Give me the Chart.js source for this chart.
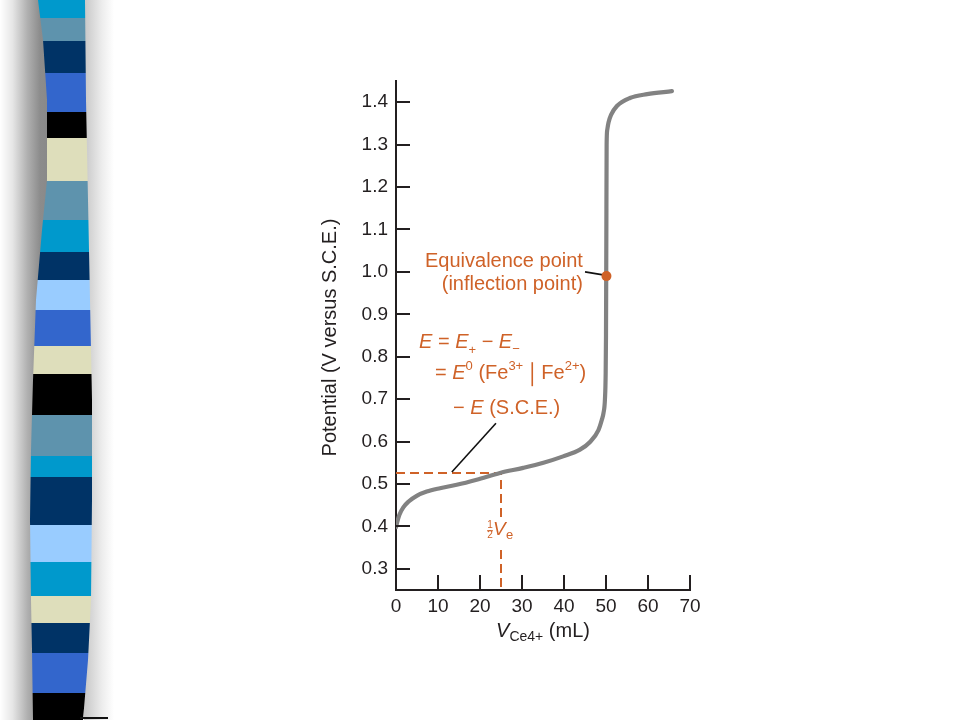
<!DOCTYPE html>
<html>
<head>
<meta charset="utf-8">
<script src="https://cdn.jsdelivr.net/npm/chart.js@4.4.1/dist/chart.umd.min.js"></script>
<style>
  html, body { margin: 0; padding: 0; background: #ffffff; }
  #wrap { position: relative; width: 960px; height: 720px; overflow: hidden; background: #fff; }
  #shadowL { position: absolute; left: 0; top: 0; width: 50px; height: 720px;
    background: linear-gradient(to right, #ffffff 0%, #e6e6e6 25%, #b0b0b0 55%, #8c8c8c 80%, #888 100%); }
  #shadowR { position: absolute; left: 84px; top: 0; width: 30px; height: 720px;
    background: linear-gradient(to right, #b8b8b8 0%, #e8e8e8 60%, #ffffff 100%); opacity: 0.8; }
  #strip { position: absolute; left: 0; top: 0; width: 110px; height: 720px;
    clip-path: polygon(38px 0, 43px 40px, 47px 100px, 47px 180px, 42px 230px, 36px 300px, 33px 380px, 31px 450px, 30px 520px, 31px 600px, 32px 650px, 33px 720px,
                       83px 720px, 88px 660px, 91px 600px, 92px 500px, 92px 400px, 90px 300px, 88px 200px, 86px 100px, 85px 0); }
  #botline { position: absolute; left: 80px; top: 717px; width: 28px; height: 2px; background: #111; }
  #c { position: absolute; left: 0; top: 0; }
</style>
</head>
<body>
<div id="wrap">
  <div id="shadowL"></div>
  <div id="shadowR"></div>
  <div id="strip"></div>
  <div id="botline"></div>
  <canvas id="c" width="960" height="720"></canvas>
</div>
<script>
// ---------- data ----------
const volume = [0, 0.31, 0.79, 1.74, 2.93, 4.93, 7.31, 10.48, 14.45, 19.2, 24.76, 30.3, 35.1, 39.8, 43.8, 46.2, 48.2, 49.0, 49.4, 49.75, 49.92, 50.0, 50.05, 50.1, 50.15, 50.3, 50.6, 51.2, 52.6, 55.7, 59.8, 65.7];
const potential = [0.398, 0.411, 0.427, 0.445, 0.458, 0.472, 0.482, 0.490, 0.498, 0.510, 0.526, 0.538, 0.550, 0.565, 0.581, 0.599, 0.627, 0.651, 0.667, 0.70, 0.76, 0.85, 0.99, 1.15, 1.30, 1.335, 1.352, 1.370, 1.391, 1.410, 1.419, 1.426];
const equivPoint = [50.1, 0.99];
const halfVe = [25, 0.526];
const xTicks = [0, 10, 20, 30, 40, 50, 60, 70];
const yTicks = [0.3, 0.4, 0.5, 0.6, 0.7, 0.8, 0.9, 1.0, 1.1, 1.2, 1.3, 1.4];
const yTitle = 'Potential (V versus S.C.E.)';
const eqLabel = ['Equivalence point', '(inflection point)'];
const leaderEq = [[45, 1.0], [49.3, 0.993]];
const leaderE = [[23.8, 0.643], [13.3, 0.528]];

// decorative stripes (slide background)
const stripeEdges = [0, 18, 41, 73, 112, 138, 181, 220, 252, 280, 310, 346, 374, 415, 456, 477, 525, 562, 596, 623, 653, 693, 720];
const stripeColors = ['#0099cc','#5e93ad','#003366','#3366cc','#000000','#dedebb','#5e93ad','#0099cc','#003366','#99ccff','#3366cc','#dedebb','#000000','#5e93ad','#0099cc','#003366','#99ccff','#0099cc','#dedebb','#003366','#3366cc','#000000'];
(function(){
  const stops = [];
  stripeColors.forEach((c, i) => { stops.push(c + ' ' + stripeEdges[i] + 'px', c + ' ' + stripeEdges[i+1] + 'px'); });
  document.getElementById('strip').style.background = 'linear-gradient(to bottom, ' + stops.join(', ') + ')';
})();

// ---------- styling ----------
const ORANGE = '#cf6228';
const INK = '#231f20';
const FAM = '"Liberation Sans", Arial, Helvetica, sans-serif';
function fnt(sz, it) { return (it ? 'italic ' : '') + sz + 'px ' + FAM; }

function drawRich(ctx, x, y, parts, align) {
  let w = 0;
  parts.forEach(p => {
    if (p.bar) { p.w = p.bw; }
    else { ctx.font = fnt(p.sz || 20, p.it); p.w = ctx.measureText(p.t).width; }
    w += p.w;
  });
  let cx = align === 'right' ? x - w : align === 'center' ? x - w / 2 : x;
  parts.forEach(p => {
    if (p.bar) {
      ctx.save();
      ctx.strokeStyle = ctx.fillStyle; ctx.lineWidth = 1.6;
      ctx.beginPath(); ctx.moveTo(cx + p.w / 2, y + p.y1); ctx.lineTo(cx + p.w / 2, y + p.y2); ctx.stroke();
      ctx.restore();
    } else {
      ctx.font = fnt(p.sz || 20, p.it);
      ctx.fillText(p.t, cx, y + (p.dy || 0));
    }
    cx += p.w;
  });
}

const decorPlugin = {
  id: 'decor',
  afterDatasetsDraw(chart) {
    const { ctx, scales: { x, y }, chartArea } = chart;
    ctx.save();
    // inward tick marks
    ctx.strokeStyle = INK; ctx.lineWidth = 2;
    yTicks.forEach(v => {
      const py = Math.round(y.getPixelForValue(v));
      ctx.beginPath(); ctx.moveTo(chartArea.left, py); ctx.lineTo(chartArea.left + 14, py); ctx.stroke();
    });
    xTicks.slice(1).forEach(v => {
      const px = Math.round(x.getPixelForValue(v));
      ctx.beginPath(); ctx.moveTo(px, chartArea.bottom); ctx.lineTo(px, chartArea.bottom - 15); ctx.stroke();
    });

    ctx.textBaseline = 'alphabetic';
    // axis titles
    ctx.fillStyle = INK;
    ctx.save();
    ctx.translate(chartArea.left - 66, y.getPixelForValue(0.85) + 2);
    ctx.rotate(-Math.PI / 2);
    ctx.font = fnt(20, false); ctx.textAlign = 'center'; ctx.textBaseline = 'middle';
    ctx.fillText(yTitle, 0, 0);
    ctx.restore();
    ctx.textAlign = 'left'; ctx.textBaseline = 'alphabetic';
    drawRich(ctx, x.getPixelForValue(35), chartArea.bottom + 47, [
      { t: 'V', it: true, sz: 20 },
      { t: 'Ce4+', sz: 14, dy: 4 },
      { t: ' (mL)', sz: 20 }
    ], 'center');

    // orange annotations
    ctx.fillStyle = ORANGE;
    drawRich(ctx, x.getPixelForValue(44.5), y.getPixelForValue(1.0113), [{ t: eqLabel[0], sz: 20 }], 'right');
    drawRich(ctx, x.getPixelForValue(44.5), y.getPixelForValue(0.957), [{ t: eqLabel[1], sz: 20 }], 'right');

    drawRich(ctx, x.getPixelForValue(5.48), y.getPixelForValue(0.820), [
      { t: 'E', it: true }, { t: ' = ' }, { t: 'E', it: true }, { t: '+', sz: 13, dy: 6 },
      { t: ' \u2212 ' }, { t: 'E', it: true }, { t: '\u2212', sz: 13, dy: 5 }
    ], 'left');
    drawRich(ctx, x.getPixelForValue(9.29), y.getPixelForValue(0.747), [
      { t: '= ' }, { t: 'E', it: true }, { t: '0', sz: 13, dy: -9 }, { t: ' (Fe' }, { t: '3+', sz: 13, dy: -9 },
      { t: ' ' }, { bar: true, bw: 7, y1: -17, y2: 7 }, { t: ' Fe' }, { t: '2+', sz: 13, dy: -9 }, { t: ')' }
    ], 'left');
    drawRich(ctx, x.getPixelForValue(13.57), y.getPixelForValue(0.665), [
      { t: '\u2212 ' }, { t: 'E', it: true }, { t: ' (S.C.E.)' }
    ], 'left');

    // 1/2 Ve label on the dashed line
    const lx = x.getPixelForValue(halfVe[0]);
    const ly = y.getPixelForValue(0.379);
    ctx.fillStyle = '#ffffff';
    ctx.fillRect(lx - 15, ly - 18, 30, 30);
    ctx.fillStyle = ORANGE;
    ctx.font = fnt(10, false); ctx.textAlign = 'center';
    ctx.fillText('1', lx - 11, ly - 7);
    ctx.fillText('2', lx - 11, ly + 3);
    ctx.fillRect(lx - 14, ly - 5, 6, 1);
    ctx.textAlign = 'left';
    ctx.font = fnt(19, true); ctx.fillText('V', lx - 8, ly);
    ctx.font = fnt(13, false); ctx.fillText('e', lx + 5, ly + 4);
    ctx.restore();
  }
};

const ctx = document.getElementById('c').getContext('2d');
new Chart(ctx, {
  type: 'line',
  data: {
    datasets: [
      {
        data: [{ x: equivPoint[0], y: equivPoint[1] }],
        showLine: false, pointRadius: 5, pointBackgroundColor: ORANGE, pointBorderColor: ORANGE, pointBorderWidth: 0
      },
      {
        data: leaderEq.map(p => ({ x: p[0], y: p[1] })),
        borderColor: '#111', borderWidth: 1.6, pointRadius: 0, fill: false
      },
      {
        data: leaderE.map(p => ({ x: p[0], y: p[1] })),
        borderColor: '#111', borderWidth: 1.6, pointRadius: 0, fill: false
      },
      {
        data: volume.map((v, i) => ({ x: v, y: potential[i] })),
        borderColor: '#828282', borderWidth: 4.2, pointRadius: 0, fill: false,
        cubicInterpolationMode: 'monotone', borderJoinStyle: 'round', borderCapStyle: 'round'
      },
      {
        data: [{ x: 0, y: halfVe[1] }, { x: halfVe[0], y: halfVe[1] }, { x: halfVe[0], y: 0.25 }],
        borderColor: ORANGE, borderWidth: 2, borderDash: [9, 5], pointRadius: 0, fill: false, tension: 0
      }
    ]
  },
  options: {
    responsive: false,
    animation: false,
    devicePixelRatio: 1,
    events: [],
    layout: { padding: { left: 0, top: 81, right: 270, bottom: 0 } },
    plugins: { legend: { display: false }, tooltip: { enabled: false } },
    scales: {
      x: {
        type: 'linear', min: 0, max: 70,
        afterBuildTicks: s => { s.ticks = xTicks.map(v => ({ value: v })); },
        afterFit: s => { s.height = 130; },
        grid: { display: false, drawTicks: false },
        border: { display: true, color: INK, width: 2 },
        ticks: { color: INK, font: { family: FAM, size: 19 }, padding: 5, maxRotation: 0, autoSkip: false }
      },
      y: {
        type: 'linear', min: 0.25, max: 1.45,
        afterBuildTicks: s => { s.ticks = yTicks.map(v => ({ value: v })); },
        afterFit: s => { s.width = 396; },
        grid: { display: false, drawTicks: false },
        border: { display: true, color: INK, width: 2 },
        ticks: { color: INK, font: { family: FAM, size: 19 }, padding: 8, autoSkip: false,
          callback: v => Number(v).toFixed(1) }
      }
    }
  },
  plugins: [decorPlugin]
});
</script>
</body>
</html>
